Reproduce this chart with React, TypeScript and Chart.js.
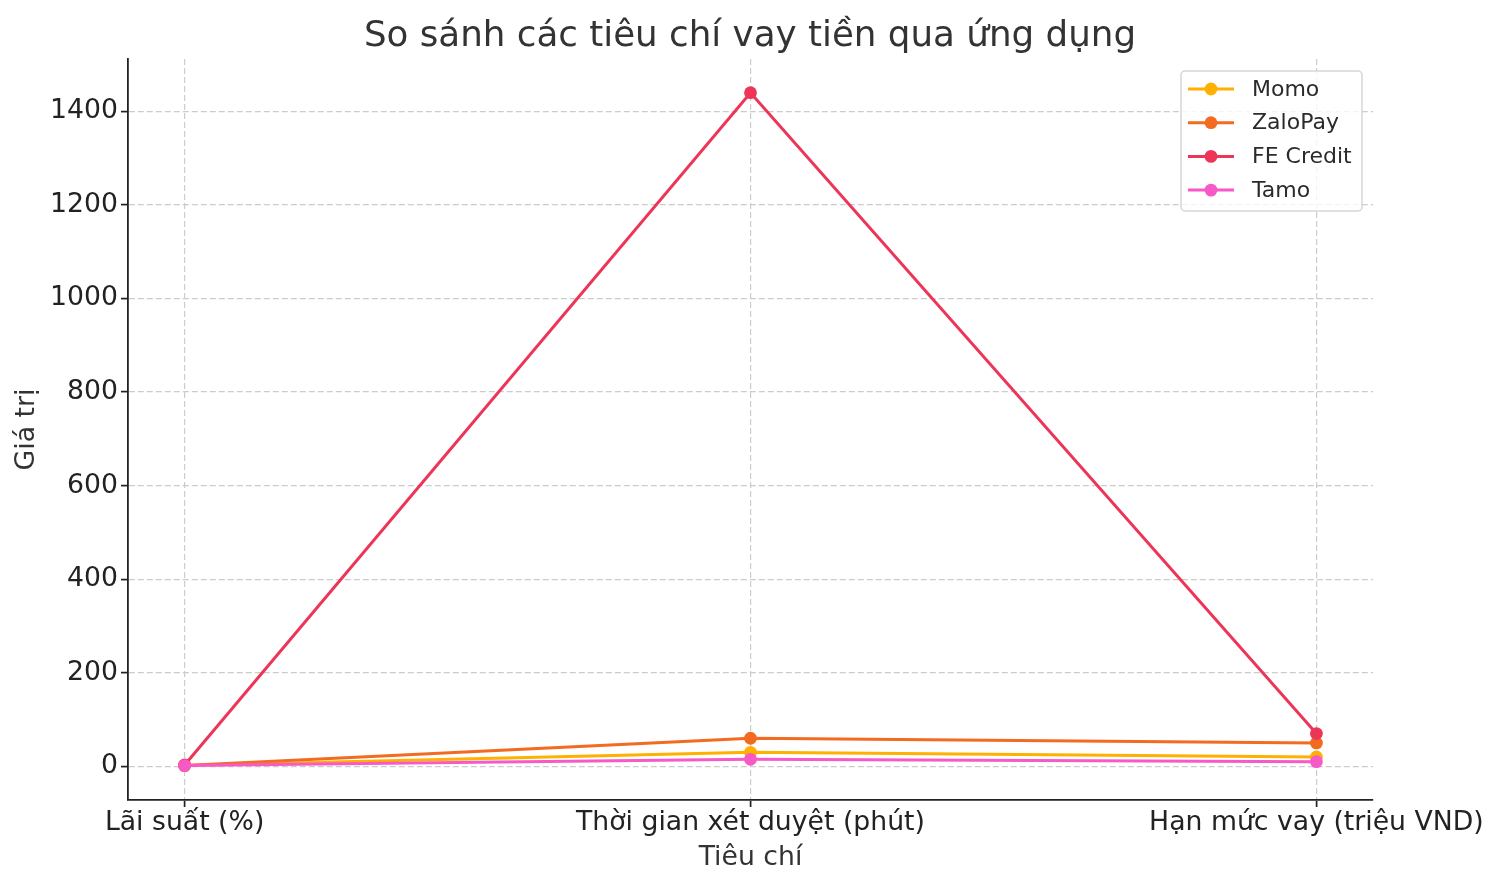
import React, { useEffect, useRef } from "react";
import { Chart, registerables } from "chart.js";

Chart.register(...registerables);

const categories = ["Lãi suất (%)", "Thời gian xét duyệt (phút)", "Hạn mức vay (triệu VND)"];
const seriesNames = ["Momo", "ZaloPay", "FE Credit", "Tamo"];
const momo = [1.5, 30, 20];
const zalopay = [2, 60, 50];
const feCredit = [3, 1440, 70];
const tamo = [1.5, 15, 10];
const seriesColors = ["#ffb000", "#f26b21", "#ed3558", "#f759c6"];
const yTicks = [0, 200, 400, 600, 800, 1000, 1200, 1400];
const titleText = "So sánh các tiêu chí vay tiền qua ứng dụng";

const FONT = "'DejaVu Sans', sans-serif";

const titlePlugin = {
  id: "mplTitle",
  afterDraw(chart: any) {
    const ctx = chart.ctx;
    ctx.save();
    ctx.fillStyle = "#333333";
    ctx.font = `35.7px ${FONT}`;
    ctx.textAlign = "center";
    ctx.textBaseline = "middle";
    ctx.fillText(titleText, chart.width / 2, 37);
    ctx.restore();
  },
};

const legendPlugin = {
  id: "mplLegend",
  afterDraw(chart: any) {
    const ctx = chart.ctx;
    const ca = chart.chartArea;
    const bx = ca.right - 192;
    const by = ca.top + 12;
    const bw = 181;
    const bh = 140;
    ctx.save();
    ctx.beginPath();
    const r = 4;
    ctx.moveTo(bx + r, by);
    ctx.arcTo(bx + bw, by, bx + bw, by + bh, r);
    ctx.arcTo(bx + bw, by + bh, bx, by + bh, r);
    ctx.arcTo(bx, by + bh, bx, by, r);
    ctx.arcTo(bx, by, bx + bw, by, r);
    ctx.closePath();
    ctx.fillStyle = "rgba(255,255,255,0.8)";
    ctx.fill();
    ctx.strokeStyle = "#d6d6d6";
    ctx.lineWidth = 1.5;
    ctx.stroke();
    chart.data.datasets.forEach((ds: any, i: number) => {
      const cy = by + 18 + i * 33.7;
      ctx.strokeStyle = ds.borderColor;
      ctx.lineWidth = 3;
      ctx.beginPath();
      ctx.moveTo(bx + 7, cy);
      ctx.lineTo(bx + 53, cy);
      ctx.stroke();
      ctx.fillStyle = ds.borderColor;
      ctx.beginPath();
      ctx.arc(bx + 30, cy, 6.4, 0, Math.PI * 2);
      ctx.fill();
      ctx.fillStyle = "#2b2b2b";
      ctx.font = `22px ${FONT}`;
      ctx.textBaseline = "middle";
      ctx.textAlign = "left";
      ctx.fillText(ds.label, bx + 71, cy + 1);
    });
    ctx.restore();
  },
};

export default function App() {
  const ref = useRef<HTMLCanvasElement>(null);
  useEffect(() => {
    document.body.style.margin = "0";
    const all = [momo, zalopay, feCredit, tamo];
    const orders = [4, 3, 2, 1];
    const chart = new Chart(ref.current!, {
      type: "line",
      data: {
        datasets: all.map((vals, i) => ({
          label: seriesNames[i],
          data: vals.map((v, j) => ({ x: j, y: v })),
          borderColor: seriesColors[i],
          backgroundColor: seriesColors[i],
          pointBackgroundColor: seriesColors[i],
          pointBorderColor: seriesColors[i],
          borderWidth: 3,
          pointRadius: 6.4,
          pointBorderWidth: 0,
          tension: 0,
          fill: false,
          order: orders[i],
        })),
      },
      plugins: [titlePlugin, legendPlugin],
      options: {
        animation: false,
        responsive: false,
        devicePixelRatio: 1,
        layout: { padding: { left: 0, right: 127, top: 59, bottom: 0 } },
        plugins: {
          legend: { display: false },
          tooltip: { enabled: false },
          title: { display: false },
        },
        scales: {
          x: {
            type: "linear",
            min: -0.1,
            max: 2.1,
            afterBuildTicks: (scale: any) => {
              scale.ticks = categories.map((_, i) => ({ value: i }));
            },
            afterFit: (scale: any) => {
              scale.height = 88;
              scale.paddingLeft = 0;
              scale.paddingRight = 0;
            },
            ticks: {
              callback: (v: any) => categories[v as number] ?? "",
              color: "#222222",
              font: { family: FONT, size: 26.7 },
              padding: 0,
              maxRotation: 0,
              autoSkip: false,
            },
            grid: {
              color: "#cccccc",
              lineWidth: 1.2,
              tickColor: "#222222",
              tickLength: 7,
              tickWidth: 1.7,
              tickBorderDash: [],
            } as any,
            border: { display: true, color: "#222222", width: 1.8, dash: [6, 3] } as any,
            title: {
              display: true,
              text: "Tiêu chí",
              color: "#333333",
              font: { family: FONT, size: 26.7 },
              padding: { top: 4, bottom: 14 },
            },
          },
          y: {
            type: "linear",
            min: -72,
            max: 1512,
            afterBuildTicks: (scale: any) => {
              scale.ticks = yTicks.map((v) => ({ value: v }));
            },
            afterFit: (scale: any) => {
              scale.width = 128;
            },
            ticks: {
              callback: (v: any) => String(v),
              color: "#222222",
              font: { family: FONT, size: 26.7 },
              padding: 3,
            },
            grid: {
              color: "#cccccc",
              lineWidth: 1.2,
              tickColor: "#222222",
              tickLength: 7,
              tickWidth: 1.7,
            },
            border: { display: true, color: "#222222", width: 1.8, dash: [6, 3] } as any,
            title: {
              display: true,
              text: "Giá trị",
              color: "#333333",
              font: { family: FONT, size: 26.7 },
              padding: { top: 11, bottom: 4 },
            },
          },
        },
      },
    });
    return () => chart.destroy();
  }, []);
  return (
    <div style={{ position: "fixed", left: 0, top: 0, width: 1500, height: 888, background: "#fff" }}>
      <canvas ref={ref} width={1500} height={888} style={{ width: 1500, height: 888 }} />
    </div>
  );
}
